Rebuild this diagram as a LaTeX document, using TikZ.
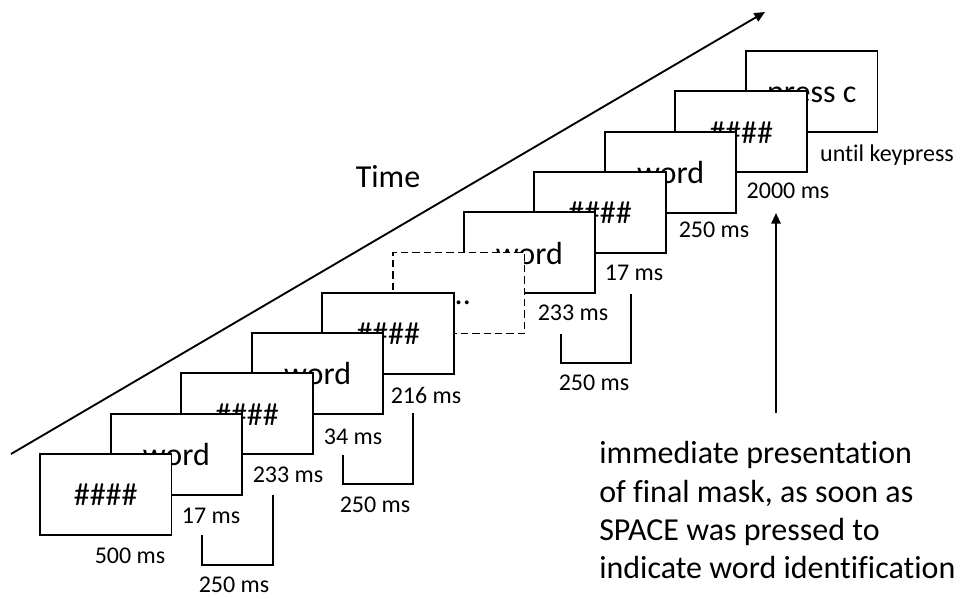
\documentclass[tikz,border=0pt]{standalone}
\usepackage{fontspec}
\setmainfont{Carlito}[Ligatures={NoCommon,NoRare,NoContextual}]
\usetikzlibrary{arrows.meta}
\begin{document}
\begin{tikzpicture}[x=0.75pt,y=-0.75pt,
  scr/.style={draw,fill=white,line width=1.4pt,minimum width=98.6pt,minimum height=60.75pt,
    inner sep=0pt,text height=17pt,text depth=0pt,font=\fontsize{24}{29}\selectfont},
  dashscr/.style={scr,dash pattern=on 5.5pt off 3pt},
  lbl/.style={anchor=base,inner sep=0pt,font=\fontsize{18}{22}\selectfont},
  big/.style={anchor=base west,inner sep=0pt,font=\fontsize{24}{29}\selectfont},
  brk/.style={line width=1.4pt},
  arr/.style={line width=1.4pt,-{Triangle[length=8pt,width=7pt]}}]
\useasboundingbox (0,0) rectangle (960,599);
% time arrow
\coordinate (ta) at (11,454);
\coordinate (tb) at (765,12);
\draw[arr] (ta) -- (tb);
\node[anchor=base,inner sep=0pt,font=\fontsize{24}{29}\selectfont] (time) at (388,188) {Time};
% screens, back to front
\node[scr] (b11) at (811.75,91.5) {press c};
\node[scr] (b10) at (741.15,131.8) {\#\#\#\#};
\node[scr] (b9) at (670.55,172.1) {word};
\node[scr] (b8) at (599.95,212.4) {\#\#\#\#};
\node[scr] (b7) at (529.35,252.7) {word};
\node[dashscr] (b6) at (458.75,293.0) {...};
\node[scr] (b5) at (388.15,333.3) {\#\#\#\#};
\node[scr] (b4) at (317.55,373.6) {word};
\node[scr] (b3) at (246.95,413.9) {\#\#\#\#};
\node[scr] (b2) at (176.35,454.2) {word};
\node[scr] (b1) at (105.75,494.5) {\#\#\#\#};
% duration labels
\node[lbl] (l1) at (130,563) {500 ms};
\node[lbl] (l2) at (211,523) {17 ms};
\node[lbl] (l3) at (288,482) {233 ms};
\node[lbl] (l4) at (353,444) {34 ms};
\node[lbl] (l5) at (426,403) {216 ms};
\node[lbl] (l7) at (573,320) {233 ms};
\node[lbl] (l8) at (634,280) {17 ms};
\node[lbl] (l9) at (714,237) {250 ms};
\node[lbl] (l10) at (788,199) {2000 ms};
\node[lbl] (l11) at (887,162) {until keypress};
% brackets
\coordinate (p1a) at (202,535); \coordinate (p1b) at (273,495);
\draw[brk] (p1a) -- (202,565) -- (273,565) -- (p1b);
\node[lbl] (s1) at (234,592) {250 ms};
\coordinate (p2a) at (343,455); \coordinate (p2b) at (413,413);
\draw[brk] (p2a) -- (343,484) -- (413,484) -- (p2b);
\node[lbl] (s2) at (375,512) {250 ms};
\coordinate (p3a) at (561,334); \coordinate (p3b) at (631,294);
\draw[brk] (p3a) -- (561,363) -- (631,363) -- (p3b);
\node[lbl] (s3) at (594,390) {250 ms};
% up arrow
\coordinate (ua) at (776,413);
\coordinate (ub) at (776,213);
\draw[arr] (ua) -- (ub);
% explanation
\node[big] (t1) at (599,463) {immediate presentation};
\node[big] (t2) at (599,502) {of final mask, as soon as};
\node[big] (t3) at (599,540) {SPACE was pressed to};
\node[big] (t4) at (599,578) {indicate word identification};
\end{tikzpicture}
\end{document}
